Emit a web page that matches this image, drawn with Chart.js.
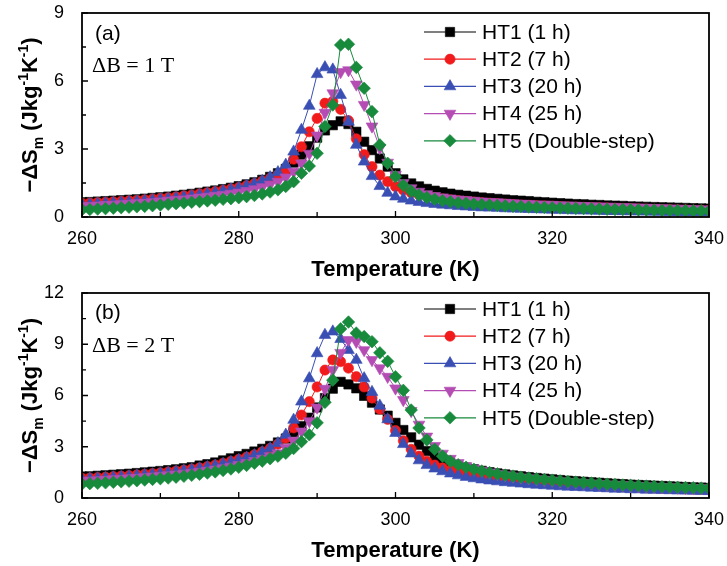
<!DOCTYPE html>
<html><head><meta charset="utf-8">
<script src="https://cdn.jsdelivr.net/npm/chart.js@4.4.1/dist/chart.umd.min.js"></script>
<style>
html,body{margin:0;padding:0;background:#fff;}
#wrap{position:relative;width:727px;height:566px;}
canvas{position:absolute;left:0;}
</style></head><body>
<div id="wrap">
<canvas id="ca" width="727" height="283" style="top:0"></canvas>
<canvas id="cb" width="727" height="283" style="top:283px"></canvas>
</div>
<script>
// ---------- DATA ----------
const temps = [260,261,262,263,264,265,266,267,268,269,270,271,272,273,274,275,276,277,278,279,
280,281,282,283,284,285,286,287,288,289,290,291,292,293,294,295,296,297,298,299,
300,301,302,303,304,305,306,307,308,309,310,311,312,313,314,315,316,317,318,319,
320,321,322,323,324,325,326,327,328,329,330,331,332,333,334,335,336,337,338,339,340];

const seriesNames = ['HT1 (1 h)','HT2 (7 h)','HT3 (20 h)','HT4 (25 h)','HT5 (Double-step)'];

// Panel (a): ΔB = 1 T
const ht1_1T = [0.65,0.66,0.68,0.70,0.72,0.74,0.76,0.78,0.81,0.84,0.87,0.90,0.94,0.98,1.02,1.07,1.12,1.17,1.23,1.29,
1.36,1.44,1.53,1.64,1.77,1.93,2.12,2.40,2.75,3.12,3.50,3.82,4.05,4.22,4.10,3.76,3.32,2.95,2.58,2.22,
1.93,1.66,1.48,1.35,1.24,1.16,1.09,1.03,0.98,0.94,0.90,0.86,0.83,0.80,0.77,0.74,0.72,0.70,0.67,0.65,
0.63,0.61,0.59,0.57,0.56,0.54,0.53,0.51,0.50,0.49,0.47,0.46,0.45,0.44,0.43,0.42,0.41,0.40,0.39,0.38,0.37];
const ht2_1T = [0.60,0.61,0.63,0.65,0.67,0.69,0.71,0.73,0.76,0.79,0.82,0.85,0.89,0.93,0.97,1.02,1.07,1.12,1.18,1.24,
1.30,1.38,1.47,1.58,1.71,1.86,2.08,2.55,3.10,3.76,4.35,5.02,5.10,4.75,4.25,3.45,2.75,2.22,1.85,1.56,
1.34,1.19,1.07,0.98,0.91,0.85,0.80,0.76,0.72,0.69,0.66,0.63,0.61,0.59,0.57,0.55,0.53,0.52,0.50,0.49,
0.48,0.46,0.45,0.44,0.43,0.42,0.41,0.40,0.39,0.38,0.37,0.36,0.35,0.34,0.33,0.33,0.32,0.31,0.30,0.30,0.29];
const ht3_1T = [0.55,0.56,0.58,0.60,0.62,0.64,0.66,0.68,0.71,0.74,0.77,0.80,0.84,0.88,0.92,0.97,1.02,1.08,1.14,1.21,
1.28,1.37,1.47,1.59,1.75,1.97,2.30,2.88,3.84,4.90,6.30,6.60,6.50,5.38,4.20,3.18,2.44,1.80,1.36,1.06,
0.90,0.80,0.72,0.66,0.61,0.57,0.54,0.51,0.48,0.46,0.44,0.42,0.41,0.40,0.38,0.37,0.36,0.35,0.34,0.33,
0.32,0.31,0.30,0.29,0.29,0.28,0.27,0.26,0.26,0.25,0.25,0.24,0.24,0.23,0.23,0.22,0.22,0.21,0.21,0.20,0.20];
const ht4_1T = [0.48,0.49,0.51,0.53,0.55,0.57,0.59,0.61,0.63,0.66,0.69,0.72,0.75,0.78,0.82,0.86,0.90,0.94,0.98,1.03,
1.08,1.15,1.23,1.32,1.43,1.56,1.75,2.00,2.37,2.80,3.60,4.60,5.46,6.40,6.48,5.85,4.95,4.00,3.05,2.40,
1.86,1.50,1.27,1.12,1.01,0.93,0.87,0.82,0.78,0.75,0.72,0.69,0.67,0.65,0.63,0.61,0.59,0.58,0.56,0.55,
0.54,0.52,0.51,0.50,0.49,0.48,0.47,0.46,0.45,0.44,0.43,0.42,0.41,0.40,0.39,0.38,0.37,0.36,0.35,0.34,0.33];
const ht5_1T = [0.32,0.33,0.35,0.37,0.39,0.41,0.43,0.45,0.47,0.50,0.53,0.56,0.59,0.62,0.65,0.68,0.71,0.74,0.78,0.81,
0.85,0.90,0.95,1.02,1.10,1.20,1.35,1.56,1.93,2.25,2.81,3.99,4.94,7.59,7.62,6.60,5.68,4.65,3.18,2.37,
1.78,1.40,1.14,0.97,0.86,0.78,0.72,0.67,0.63,0.60,0.57,0.55,0.53,0.51,0.49,0.47,0.46,0.44,0.43,0.42,
0.41,0.40,0.39,0.38,0.37,0.36,0.35,0.34,0.33,0.33,0.32,0.31,0.30,0.30,0.29,0.29,0.28,0.28,0.27,0.27,0.26];

// Panel (b): ΔB = 2 T
const ht1_2T = [1.25,1.27,1.30,1.33,1.36,1.39,1.42,1.46,1.50,1.54,1.58,1.63,1.68,1.74,1.80,1.90,1.98,2.08,2.20,2.32,
2.45,2.58,2.72,2.88,3.05,3.25,3.48,3.85,4.20,4.70,5.30,5.85,6.40,6.80,6.65,6.42,5.98,5.58,5.18,4.82,
4.40,3.98,3.55,3.12,2.75,2.45,2.22,2.04,1.90,1.78,1.68,1.59,1.51,1.44,1.38,1.32,1.27,1.22,1.17,1.13,
1.09,1.05,1.01,0.98,0.95,0.92,0.89,0.86,0.83,0.81,0.78,0.76,0.74,0.72,0.70,0.68,0.66,0.64,0.62,0.61,0.59];
const ht2_2T = [1.15,1.17,1.19,1.22,1.25,1.28,1.31,1.35,1.39,1.43,1.47,1.52,1.57,1.63,1.69,1.76,1.84,1.93,2.03,2.14,
2.26,2.39,2.53,2.70,2.90,3.15,3.50,4.10,4.86,5.64,6.50,7.49,8.08,7.98,7.60,7.10,6.50,5.85,5.20,4.60,
3.95,3.35,2.85,2.45,2.15,1.93,1.76,1.63,1.52,1.43,1.35,1.28,1.22,1.16,1.11,1.06,1.02,0.98,0.94,0.91,
0.88,0.85,0.82,0.79,0.77,0.74,0.72,0.70,0.68,0.66,0.64,0.62,0.60,0.59,0.57,0.56,0.54,0.53,0.52,0.50,0.49];
const ht3_2T = [1.10,1.12,1.14,1.17,1.20,1.23,1.26,1.30,1.34,1.38,1.43,1.48,1.53,1.59,1.65,1.72,1.80,1.89,1.99,2.10,
2.22,2.35,2.50,2.68,2.90,3.20,3.70,4.57,5.64,7.00,8.47,9.54,9.74,9.30,8.66,8.08,7.00,6.20,5.40,4.60,
3.80,3.15,2.60,2.20,1.92,1.72,1.56,1.43,1.32,1.23,1.15,1.08,1.02,0.97,0.92,0.88,0.84,0.80,0.77,0.74,
0.71,0.68,0.66,0.64,0.62,0.60,0.58,0.56,0.54,0.53,0.51,0.50,0.48,0.47,0.46,0.45,0.44,0.43,0.42,0.41,0.40];
const ht4_2T = [1.00,1.02,1.04,1.07,1.10,1.13,1.16,1.19,1.22,1.26,1.30,1.34,1.38,1.43,1.48,1.54,1.60,1.67,1.75,1.84,
1.94,2.05,2.17,2.30,2.45,2.62,2.95,3.35,3.90,4.50,5.30,6.40,7.50,8.50,9.25,9.15,8.66,8.08,7.60,7.10,
6.42,5.74,5.10,4.30,3.60,3.05,2.60,2.30,2.05,1.87,1.72,1.60,1.50,1.41,1.34,1.27,1.21,1.16,1.11,1.07,
1.03,0.99,0.95,0.92,0.89,0.86,0.83,0.80,0.78,0.76,0.73,0.71,0.69,0.67,0.65,0.64,0.62,0.60,0.59,0.58,0.56];
const ht5_2T = [0.82,0.84,0.86,0.89,0.92,0.95,0.98,1.01,1.05,1.09,1.13,1.17,1.22,1.27,1.33,1.39,1.46,1.53,1.61,1.70,
1.80,1.91,2.03,2.16,2.30,2.45,2.62,2.90,3.30,3.70,4.40,5.60,6.90,9.90,10.30,9.65,9.45,9.15,8.50,8.00,
7.10,6.30,5.15,4.10,3.40,2.85,2.45,2.15,1.95,1.80,1.68,1.58,1.49,1.41,1.34,1.28,1.22,1.17,1.12,1.08,
1.04,1.00,0.96,0.93,0.90,0.87,0.84,0.81,0.79,0.76,0.74,0.72,0.70,0.68,0.66,0.64,0.63,0.61,0.60,0.58,0.57];

const xTicks = [260,280,300,320,340];
const xMinorTicks = [270,290,310,330];
const yTicksA = [0,3,6,9];
const yMinorA = [1.5,4.5,7.5];
const yTicksB = [0,3,6,9,12];
const yMinorB = [1.5,4.5,7.5,10.5];

// ---------- STYLE ----------
const colors = ['#000000','#f21b1b','#3a4fb3','#b44cb4','#178a3c'];
const marks = [
  {ps:'rect', rot:0, r:6.6},
  {ps:'circle', rot:0, r:5.1},
  {ps:'triangle', rot:0, r:6.8},
  {ps:'triangle', rot:180, r:6.8},
  {ps:'rectRot', rot:0, r:6.3}
];
const SANS = '"Liberation Sans", Arial, sans-serif';
const SERIF = '"Liberation Serif", "Times New Roman", serif';

function makeDatasets(list) {
  return list.map((vals, i) => ({
    label: seriesNames[i],
    data: vals.map((v, k) => ({x: temps[k], y: v})),
    borderColor: colors[i],
    backgroundColor: colors[i],
    borderWidth: 1,
    pointStyle: marks[i].ps,
    pointRotation: marks[i].rot,
    pointRadius: marks[i].r,
    pointBorderWidth: 0.6,
    pointBorderColor: colors[i],
    pointBackgroundColor: colors[i],
    pointHoverRadius: marks[i].r,
    tension: 0,
    clip: 0,
    order: 5 - i
  }));
}

function drawYTitle(ctx, baseX, cy) {
  const big = 'bold 22px ' + SANS, small = 'bold 14px ' + SANS;
  const parts = [['\u2212\u0394S', big, 0], ['m', small, 6], [' (Jkg', big, 0], ['-1', small, -9],
                 ['K', big, 0], ['-1', small, -9], [')', big, 0]];
  let total = 0;
  parts.forEach(p => { ctx.font = p[1]; p.push(ctx.measureText(p[0]).width); total += p[3]; });
  ctx.save();
  ctx.translate(baseX, cy);
  ctx.rotate(-Math.PI / 2);
  ctx.textBaseline = 'alphabetic';
  ctx.textAlign = 'left';
  ctx.fillStyle = '#000';
  let x = -total / 2;
  parts.forEach(p => { ctx.font = p[1]; ctx.fillText(p[0], x, p[2]); x += p[3]; });
  ctx.restore();
}

const decor = {
  id: 'decor',
  afterDraw(chart, args, o) {
    const ctx = chart.ctx, a = chart.chartArea, xs = chart.scales.x, ys = chart.scales.y;
    ctx.save();
    // frame
    ctx.strokeStyle = '#000';
    ctx.lineWidth = 1.8;
    ctx.strokeRect(a.left, a.top, a.right - a.left, a.bottom - a.top);
    // inward ticks
    ctx.lineWidth = 1.3;
    ctx.beginPath();
    xTicks.forEach(v => { const p = xs.getPixelForValue(v); ctx.moveTo(p, a.bottom); ctx.lineTo(p, a.bottom - 6); });
    xMinorTicks.forEach(v => { const p = xs.getPixelForValue(v); ctx.moveTo(p, a.bottom); ctx.lineTo(p, a.bottom - 5); });
    o.yMajor.forEach(v => { const p = ys.getPixelForValue(v); ctx.moveTo(a.left, p); ctx.lineTo(a.left + 6, p); });
    o.yMinor.forEach(v => { const p = ys.getPixelForValue(v); ctx.moveTo(a.left, p); ctx.lineTo(a.left + 4, p); });
    ctx.stroke();
    // axis titles
    ctx.fillStyle = '#000';
    ctx.font = 'bold 22px ' + SANS;
    ctx.textAlign = 'center';
    ctx.textBaseline = 'middle';
    ctx.fillText('Temperature (K)', (a.left + a.right) / 2, o.xTitleY);
    drawYTitle(ctx, 37, (a.top + a.bottom) / 2);
    // panel label and field
    ctx.textAlign = 'left';
    ctx.textBaseline = 'alphabetic';
    ctx.font = '21px ' + SANS;
    ctx.fillText(o.panel, 95, o.panelY);
    ctx.font = '22px ' + SERIF;
    ctx.fillText(o.field, 92, o.fieldY);
    // legend
    const ds = chart.data.datasets;
    ds.forEach((d, i) => {
      const y = o.legY + i * 27.2;
      ctx.strokeStyle = d.borderColor;
      ctx.lineWidth = 1.2;
      ctx.beginPath(); ctx.moveTo(424, y); ctx.lineTo(476, y); ctx.stroke();
      ctx.fillStyle = d.backgroundColor;
      ctx.lineWidth = 0.6;
      Chart.helpers.drawPoint(ctx, {pointStyle: d.pointStyle, rotation: d.pointRotation, radius: d.pointRadius, borderWidth: 0.6}, 450, y);
    });
    ctx.font = '21px ' + SANS;
    ctx.textBaseline = 'middle';
    ctx.fillStyle = '#000';
    ds.forEach((d, i) => {
      ctx.fillText(d.label, 482, o.legY + i * 27.2 + 1);
    });
    ctx.restore();
  }
};

function makeChart(id, list, yMax, yMajor, yMinor, opts) {
  return new Chart(document.getElementById(id), {
    type: 'line',
    data: {datasets: makeDatasets(list)},
    options: {
      responsive: false,
      animation: false,
      events: [],
      layout: {padding: {left: 0, right: 18, top: opts.top, bottom: 0}},
      scales: {
        x: {
          type: 'linear', min: 260, max: 340,
          afterBuildTicks: s => { s.ticks = xTicks.map(v => ({value: v})); },
          afterFit: s => { s.height = opts.xh; s.paddingLeft = 0; s.paddingRight = 0; },
          grid: {display: false},
          border: {display: false},
          ticks: {color: '#000', font: {family: SANS, size: 18}, padding: 3, maxRotation: 0, autoSkip: false}
        },
        y: {
          min: 0, max: yMax,
          afterBuildTicks: s => { s.ticks = yMajor.map(v => ({value: v})); },
          afterFit: s => { s.width = 82; s.paddingTop = 0; s.paddingBottom = 0; },
          grid: {display: false},
          border: {display: false},
          ticks: {color: '#000', font: {family: SANS, size: 18}, padding: 10, autoSkip: false}
        }
      },
      plugins: {
        legend: {display: false},
        tooltip: {enabled: false},
        decor: {yMajor: yMajor, yMinor: yMinor, xTitleY: opts.xTitleY, panel: opts.panel, panelY: opts.panelY,
                field: opts.field, fieldY: opts.fieldY, legY: opts.legY}
      }
    },
    plugins: [decor]
  });
}

makeChart('ca', [ht1_1T, ht2_1T, ht3_1T, ht4_1T, ht5_1T], 9, yTicksA, yMinorA,
  {top: 13, xh: 66, xTitleY: 270, panel: '(a)', panelY: 40, field: '\u0394B = 1 T', fieldY: 72, legY: 32});
makeChart('cb', [ht1_2T, ht2_2T, ht3_2T, ht4_2T, ht5_2T], 12, yTicksB, yMinorB,
  {top: 10, xh: 68, xTitleY: 268, panel: '(b)', panelY: 36, field: '\u0394B = 2 T', fieldY: 69, legY: 26});
</script>
</body></html>
